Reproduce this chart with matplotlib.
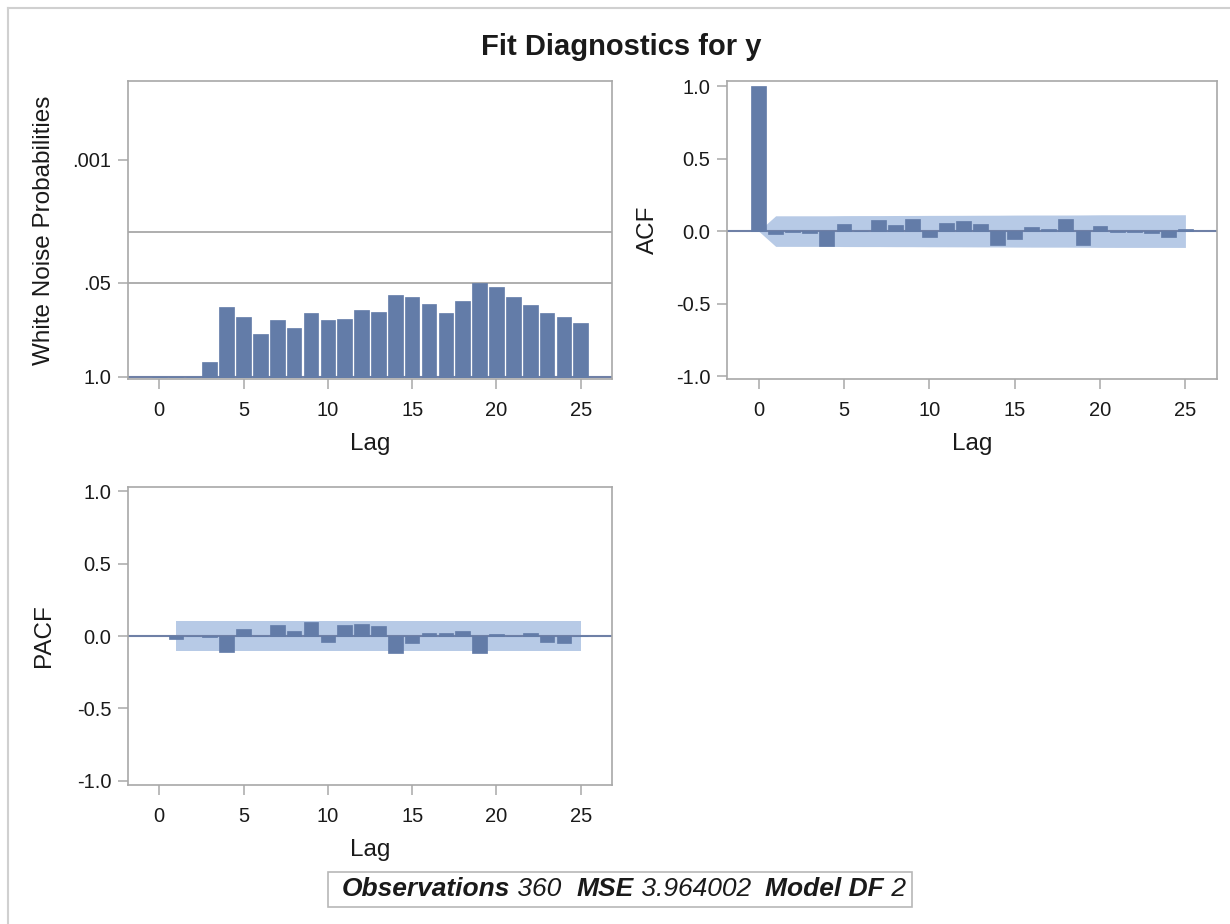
import numpy as np
import matplotlib
matplotlib.use("Agg")
import matplotlib.pyplot as plt
from matplotlib.patches import Rectangle
from matplotlib.lines import Line2D

plt.rcParams['font.family'] = ['Liberation Sans', 'DejaVu Sans']

# data
n_obs = 360
mse_text = "3.964002"
model_df = "2"

lags = np.arange(0, 26)
# -log10(p) of white noise test, lags 0..25 (0..2 have no test)
wn_logp = [0, 0, 0, 0.20, 0.96, 0.83, 0.59, 0.78, 0.68, 0.88, 0.78, 0.80, 0.92,
           0.89, 1.13, 1.11, 1.00, 0.88, 1.05, 1.30, 1.24, 1.10, 0.99, 0.88,
           0.83, 0.74]
acf = [1.0, -0.023, -0.004, -0.010, -0.105, 0.048, 0.003, 0.076, 0.039, 0.083,
       -0.039, 0.055, 0.069, 0.048, -0.094, -0.055, 0.028, 0.016, 0.080,
       -0.099, 0.034, -0.004, -0.003, -0.015, -0.041, 0.011]
pacf_lags = np.arange(1, 26)
pacf = [-0.020, -0.003, -0.010, -0.110, 0.046, 0.002, 0.078, 0.032, 0.095,
        -0.039, 0.078, 0.083, 0.072, -0.120, -0.048, 0.018, 0.023, 0.037,
        -0.115, 0.014, 0.002, 0.018, -0.042, -0.048, 0.002]

wn_ticks = [0, -np.log10(0.05), 3]
wn_ticklabels = ["1.0", ".05", ".001"]
wn_reflines = [-np.log10(0.05), 2]

bar_col = "#637CA8"
band_col = "#B7CAE6"
ref_col = "#6F80A6"
frame_col = "#A8A8A8"
txt_col = "#1A1A1A"

W, H = 1230, 924
fig = plt.figure(figsize=(W / 100, H / 100), dpi=100)

def px_axes(x0, y0, x1, y1):
    return fig.add_axes([x0 / W, 1 - y1 / H, (x1 - x0) / W, (y1 - y0) / H])

def style(ax):
    for s in ax.spines.values():
        s.set_color(frame_col)
        s.set_linewidth(1.2)
    ax.tick_params(direction='out', length=7, width=1.1, color=frame_col,
                   labelsize=14.5, labelcolor=txt_col, pad=5)
    ax.tick_params(axis='x', pad=9)
    ax.set_xlim(-1.85, 26.85)
    ax.set_xticks([0, 5, 10, 15, 20, 25])
    ax.set_xlabel("Lag", fontsize=17.5, color=txt_col)
    ax.xaxis.label.set_va('center')
    ax.xaxis.set_label_coords(0.5, -0.218)

# white noise probabilities
ax1 = px_axes(128, 81, 612, 379)
style(ax1)
for v in wn_reflines:
    ax1.axhline(v, color=frame_col, lw=1.3, zorder=1)
ax1.axhline(0, color=ref_col, lw=1.5, zorder=1)
ax1.bar(lags, wn_logp, width=0.87, color=bar_col, edgecolor=bar_col, lw=0.5, zorder=2)
ax1.set_ylim(-0.03, 4.09)
ax1.set_yticks(wn_ticks)
ax1.set_yticklabels(wn_ticklabels)
ax1.set_ylabel("White Noise Probabilities", fontsize=17.5, color=txt_col)
ax1.yaxis.label.set_va('center')
ax1.yaxis.set_label_coords(-0.1736, 0.5)

# ACF with Bartlett band
ax2 = px_axes(727, 81, 1217, 379)
style(ax2)
r = np.array(acf)
band = [0.0]
for k in range(1, 26):
    band.append(2 * np.sqrt((1 + 2 * np.sum(r[1:k] ** 2)) / n_obs))
band = np.array(band)
ax2.fill_between(lags, -band, band, color=band_col, lw=0, zorder=1)
ax2.axhline(0, color=ref_col, lw=1.5, zorder=2)
ax2.bar(lags, acf, width=0.87, color=bar_col, edgecolor=bar_col, lw=0.5, zorder=3)
ax2.set_ylim(-1.02, 1.035)
ax2.set_yticks([-1, -0.5, 0, 0.5, 1])
ax2.set_yticklabels(["-1.0", "-0.5", "0.0", "0.5", "1.0"])
ax2.set_ylabel("ACF", fontsize=17.5, color=txt_col)
ax2.yaxis.label.set_va('center')
ax2.yaxis.set_label_coords(-0.161, 0.5)

# PACF
ax3 = px_axes(128, 487, 612, 785)
style(ax3)
pb = 2 / np.sqrt(n_obs)
ax3.fill_between([1, 25], [-pb, -pb], [pb, pb], color=band_col, lw=0, zorder=1)
ax3.axhline(0, color=ref_col, lw=1.5, zorder=2)
ax3.bar(pacf_lags, pacf, width=0.87, color=bar_col, edgecolor=bar_col, lw=0.5, zorder=3)
ax3.set_ylim(-1.03, 1.03)
ax3.set_yticks([-1, -0.5, 0, 0.5, 1])
ax3.set_yticklabels(["-1.0", "-0.5", "0.0", "0.5", "1.0"])
ax3.set_ylabel("PACF", fontsize=17.5, color=txt_col)
ax3.yaxis.label.set_va('center')
ax3.yaxis.set_label_coords(-0.1736, 0.5)

fig.text(621 / W, 1 - 47 / H, "Fit Diagnostics for y", ha='center', va='center',
         fontsize=21, fontweight='bold', color=txt_col)

# outer border (only left/top visible in the crop)
fig.add_artist(Line2D([8 / W, 8 / W], [0, 1 - 8 / H], transform=fig.transFigure,
                      color="#D0D0D0", lw=1.5))
fig.add_artist(Line2D([8 / W, 1], [1 - 8 / H, 1 - 8 / H], transform=fig.transFigure,
                      color="#D0D0D0", lw=1.5))

# footer with mixed styles
pieces = [("Observations", 'bold'), (" 360  ", 'normal'), ("MSE", 'bold'),
          (" " + mse_text + "  ", 'normal'), ("Model DF", 'bold'), (" " + model_df, 'normal')]
fig.canvas.draw()
rend = fig.canvas.get_renderer()
texts = []
x = 0
for s, w in pieces:
    t = fig.text(x / W, 1 - 889 / H, s, ha='left', va='center', fontsize=19,
                 fontweight=w, fontstyle='italic', color=txt_col)
    bb = t.get_window_extent(renderer=rend)
    texts.append((t, x))
    x += bb.width
x0 = 624 - x / 2
for t, xo in texts:
    t.set_x((x0 + xo) / W)
fig.add_artist(Rectangle((328 / W, 1 - 907 / H), (912 - 328) / W, 35 / H,
                         transform=fig.transFigure, fill=False,
                         edgecolor="#B8B8B8", lw=1.2))

fig.savefig("out.png", dpi=100)
